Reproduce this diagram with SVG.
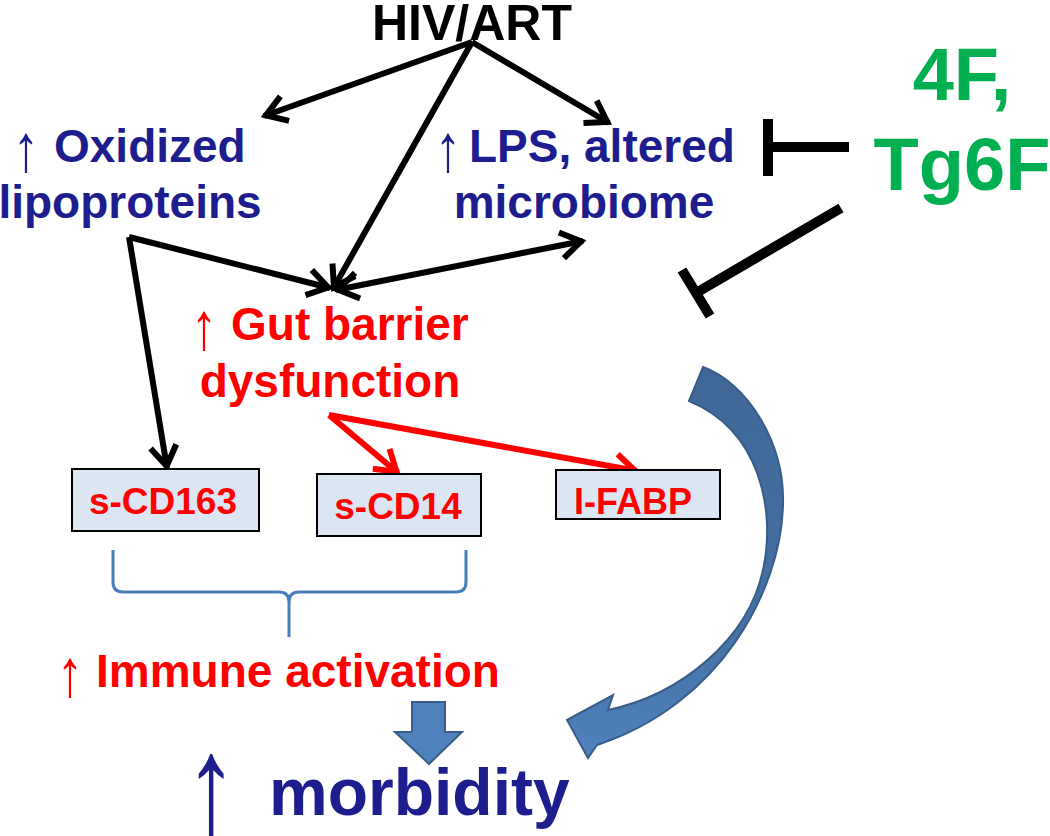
<svg xmlns="http://www.w3.org/2000/svg" width="1050" height="836" viewBox="0 0 1050 836">
<style>
.t{font-family:"Liberation Sans",Arial,sans-serif;font-weight:bold;text-anchor:middle}
.s{text-anchor:start}
.ar{font-family:"Liberation Sans",Arial,sans-serif;font-weight:normal;text-anchor:middle}
.blue{fill:#1D1D8E}
.red{fill:#FF0000}
.green{fill:#00B050}
.blk{fill:#000}
.box{fill:#DCE6F2;stroke:#000;stroke-width:2}
.ln{fill:none;stroke:#000;stroke-width:6}
.rl{fill:none;stroke:#FF0000;stroke-width:6}
.inh{fill:none;stroke:#000;stroke-width:10}
.blk-arrow{fill:#4F81BD;stroke:#385D8A;stroke-width:2}
</style>
<defs>
<marker id="ah" viewBox="-26 -16 30 32" markerWidth="30" markerHeight="32" refX="0" refY="0" markerUnits="userSpaceOnUse" orient="auto-start-reverse">
<path d="M-22,-13 L-2,0 L-22,13" fill="none" stroke="#000" stroke-width="6" stroke-linejoin="miter"/>
</marker>
<marker id="ahr" viewBox="-26 -16 30 32" markerWidth="30" markerHeight="32" refX="0" refY="0" markerUnits="userSpaceOnUse" orient="auto-start-reverse">
<path d="M-22,-13 L-2,0 L-22,13" fill="none" stroke="#FF0000" stroke-width="6" stroke-linejoin="miter"/>
</marker>
<linearGradient id="cg" x1="0" y1="0" x2="0" y2="1">
<stop offset="0" stop-color="#3F6898"/>
<stop offset="0.6" stop-color="#44709F"/>
<stop offset="1" stop-color="#4F81BD"/>
</linearGradient>
</defs>

<g id="connectors">
<line class="ln" x1="472" y1="42" x2="264" y2="116" marker-end="url(#ah)"/>
<line class="ln" x1="472" y1="42" x2="333" y2="289" marker-end="url(#ah)"/>
<line class="ln" x1="472" y1="42" x2="609" y2="123" marker-end="url(#ah)"/>
<line class="ln" x1="129" y1="237" x2="330" y2="288" marker-end="url(#ah)"/>
<line class="ln" x1="129" y1="237" x2="167" y2="468" marker-end="url(#ah)"/>
<line class="ln" x1="336" y1="290" x2="583" y2="241" marker-start="url(#ah)" marker-end="url(#ah)"/>
<line class="rl" x1="329" y1="415" x2="398" y2="473" marker-end="url(#ahr)"/>
<line class="rl" x1="329" y1="415" x2="637" y2="471" marker-end="url(#ahr)"/>
<path class="inh" d="M849,147 L768,147 M768,119 L768,176"/>
<path class="inh" d="M841,208 L696,293 M682,270 L710,316"/>
<path d="M113,550 L113,582 Q113,592 123,592 L279,592 Q289,592 289,602 L289,637 M289,602 Q289,592 299,592 L456,592 Q466,592 466,582 L466,550" fill="none" stroke="#4A7EBB" stroke-width="3"/>
<polygon class="blk-arrow" points="412,702 445,702 445,732 462,732 429,764 395,732 412,732"/>
<path d="M703,367 C745,382 785,440 783,505 C781,590 720,705 597,745 L588,758 L567,720 L613,695 L608,710 C680,695 748,640 763,570 C776,510 760,430 689,401 Z" fill="url(#cg)" stroke="#385D8A" stroke-width="2"/>
</g>

<g id="hiv"><text class="t blk" x="472" y="40" font-size="50">HIV/ART</text></g>
<g id="oxidized">
<text class="ar blue" font-size="46" transform="translate(26,171) scale(1.15,1.45)">↑</text>
<text class="t s blue" x="54" y="162" font-size="46">Oxidized</text>
<text class="t blue" x="130" y="218" font-size="46">lipoproteins</text>
</g>
<g id="lps">
<text class="ar blue" font-size="46" transform="translate(448,171) scale(1.15,1.45)">↑</text>
<text class="t s blue" x="469" y="162" font-size="46">LPS, altered</text>
<text class="t blue" x="584" y="218" font-size="46">microbiome</text>
</g>
<g id="treatment">
<text class="t green" x="962" y="100" font-size="74">4F,</text>
<text class="t green" x="962" y="190" font-size="74">Tg6F</text>
</g>
<g id="gut">
<text class="ar red" font-size="46" transform="translate(204,349) scale(1.15,1.45)">↑</text>
<text class="t s red" x="231" y="340" font-size="46">Gut barrier</text>
<text class="t red" x="330" y="397" font-size="46">dysfunction</text>
</g>
<g id="cd163">
<rect class="box" x="72" y="469" width="187" height="62"/>
<text class="t red" x="163" y="514" font-size="37">s-CD163</text>
</g>
<g id="cd14">
<rect class="box" x="317" y="474" width="164" height="62"/>
<text class="t red" x="398" y="519" font-size="37">s-CD14</text>
</g>
<g id="ifabp">
<rect class="box" x="556" y="470" width="164" height="49"/>
<text class="t red" x="633" y="514" font-size="36">I-FABP</text>
</g>
<g id="immune">
<text class="ar red" font-size="46" transform="translate(70,696) scale(1.15,1.45)">↑</text>
<text class="t s red" x="96" y="687" font-size="46">Immune activation</text>
</g>
<g id="morbidity">
<text class="ar blue" font-size="100" transform="translate(211,838) scale(1.06,1.5)">↑</text>
<text class="t s blue" x="269" y="815" font-size="66">morbidity</text>
</g>
</svg>
